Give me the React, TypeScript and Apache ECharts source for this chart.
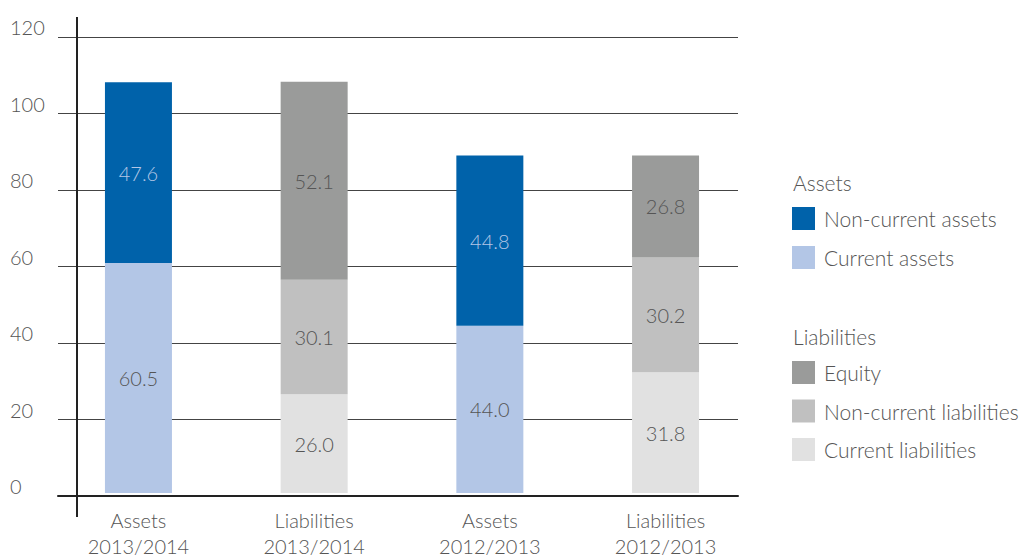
import React, { useEffect, useRef } from "react";
import * as echarts from "echarts";

const categories = ["Assets\n2013/2014", "Liabilities\n2013/2014", "Assets\n2012/2013", "Liabilities\n2012/2013"];
const yTicks = [0, 20, 40, 60, 80, 100, 120];
const currentAssets = [60.5, null, 44.0, null];
const nonCurrentAssets = [47.6, null, 44.8, null];
const currentLiabilities = [null, 26.0, null, 31.8];
const nonCurrentLiabilities = [null, 30.1, null, 30.2];
const equity = [null, 52.1, null, 26.8];

const FONT = "Lato";
const TXT = "#555555";

export default function App() {
  const ref = useRef<HTMLDivElement>(null);
  useEffect(() => {
    const chart = echarts.init(ref.current!, null, { renderer: "svg" });
    const label = (color: string) => ({
      show: true,
      position: "inside",
      color,
      fontSize: 20,
      fontFamily: FONT,
      fontWeight: 300,
      formatter: (p: any) => Number(p.value).toFixed(1),
    });
    const mk = (name: string, data: any[], color: string, lc: string) => ({
      name,
      type: "bar",
      stack: "total",
      data,
      barWidth: 67,
      xAxisIndex: 0,
      yAxisIndex: 0,
      itemStyle: { color },
      label: label(lc),
    });
    const legendText = { color: TXT, fontSize: 21, fontFamily: FONT, fontWeight: 300, padding: [0, 0, 0, 4] };
    chart.setOption({
      animation: false,
      textStyle: { fontFamily: FONT },
      grid: [
        { left: 50.6, right: 272.6, top: 37, bottom: 63 },
        { left: 58, right: 288, top: 37, bottom: 63 },
      ],
      xAxis: [
        {
          type: "category",
          gridIndex: 0,
          data: categories,
          axisLine: { show: false },
          axisTick: { show: false },
          axisLabel: {
            color: TXT,
            fontSize: 20,
            fontFamily: FONT,
            fontWeight: 300,
            lineHeight: 26,
            margin: 14,
          },
        },
        {
          type: "value",
          gridIndex: 1,
          min: 0,
          max: 1,
          axisLine: { show: true, onZero: false, lineStyle: { color: "#222", width: 2 } },
          axisTick: { show: false },
          axisLabel: { show: false },
          splitLine: { show: false },
        },
      ],
      yAxis: [
        {
          type: "value",
          gridIndex: 0,
          min: yTicks[0],
          max: yTicks[yTicks.length - 1],
          interval: 20,
          axisLine: { show: false },
          axisTick: { show: false },
          axisLabel: { show: false },
          splitLine: { show: false },
        },
        {
          type: "value",
          gridIndex: 1,
          min: yTicks[0],
          max: yTicks[yTicks.length - 1],
          interval: 20,
          axisLine: { show: false },
          axisTick: { show: false },
          axisLabel: {
            color: TXT,
            fontSize: 20,
            fontFamily: FONT,
            fontWeight: 300,
            align: "left",
            verticalAlign: "bottom",
            margin: 48,
          },
          splitLine: { show: true, lineStyle: { color: "#444", width: 1 } },
        },
      ],
      legend: [
        {
          data: ["Non-current assets", "Current assets"],
          orient: "vertical",
          left: 792,
          top: 207,
          padding: 0,
          itemWidth: 23,
          itemHeight: 23,
          itemGap: 16,
          icon: "rect",
          selectedMode: false,
          textStyle: legendText,
        },
        {
          data: ["Equity", "Non-current liabilities", "Current liabilities"],
          orient: "vertical",
          left: 792,
          top: 361,
          padding: 0,
          itemWidth: 23,
          itemHeight: 23,
          itemGap: 15.5,
          icon: "rect",
          selectedMode: false,
          textStyle: legendText,
        },
      ],
      graphic: [
        {
          type: "line",
          shape: { x1: 77, y1: 17, x2: 77, y2: 517 },
          style: { stroke: "#222", lineWidth: 2 },
          z: 10,
        },
        {
          type: "text",
          left: 793,
          top: 172,
          style: { text: "Assets", fill: TXT, font: `300 21px ${FONT}` },
        },
        {
          type: "text",
          left: 793,
          top: 326,
          style: { text: "Liabilities", fill: TXT, font: `300 21px ${FONT}` },
        },
      ],
      series: [
        mk("Current assets", currentAssets, "#B3C6E6", TXT),
        mk("Non-current assets", nonCurrentAssets, "#0062AA", "#B3C6E6"),
        mk("Current liabilities", currentLiabilities, "#E1E1E1", TXT),
        mk("Non-current liabilities", nonCurrentLiabilities, "#C0C0C0", TXT),
        mk("Equity", equity, "#9A9B9A", TXT),
      ],
    });
    return () => chart.dispose();
  }, []);
  return <div ref={ref} style={{ width: 1026, height: 559, position: "absolute", left: 0, top: 0 }} />;
}
